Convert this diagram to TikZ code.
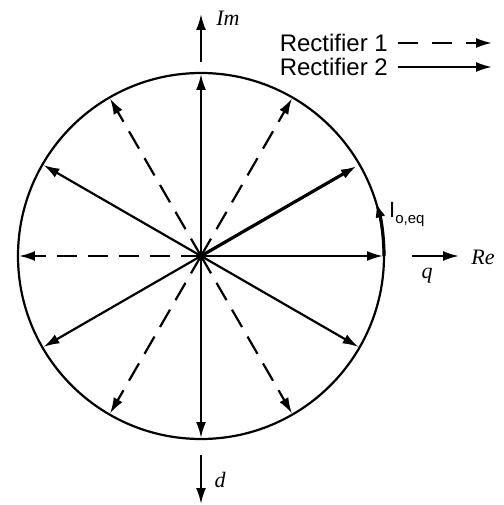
\documentclass[tikz,border=0pt]{standalone}
\usepackage{fontspec}
\setmainfont{Liberation Serif}
\setsansfont{Liberation Sans}
\usetikzlibrary{arrows.meta}
\begin{document}
\begin{tikzpicture}[x=1pt,y=1pt,
  vec/.style={line width=2.2pt,-{Latex[length=16pt,width=10pt]}},
  dvec/.style={vec,dash pattern=on 20pt off 11pt},
  axlabel/.style={font=\fontsize{22}{22}\selectfont\itshape,inner sep=0pt},
  legend/.style={font=\fontsize{24}{24}\selectfont\sffamily,anchor=east,inner sep=0pt}]
\useasboundingbox (-201,-249) rectangle (302,256);
\coordinate (O) at (0,0);
\draw[line width=2.2pt] (O) circle (183);
\foreach \a in {0,90,150,210,270,330}{
  \draw[vec] (O) -- (\a:182);
}
\draw[vec,line width=3.2pt] (O) -- (30:180);
\foreach \a in {60,120,180,240,300}{
  \draw[dvec] (O) -- (\a:182);
}
% current vector along the circle
\draw[line width=3.2pt,-{Latex[length=15pt,width=10pt]}] (0:183) arc (0:17:183);
\node[anchor=base west,inner sep=0pt,font=\sffamily] (ieq) at (188,38) {\fontsize{22}{22}\selectfont I\raisebox{-6pt}{\fontsize{15}{15}\selectfont o,eq}};
% axes
\coordinate (imS) at (0,194);
\coordinate (imE) at (0,242);
\draw[vec] (imS) -- (imE);
\node[axlabel] (im) at (27,238) {Im};
\coordinate (dS) at (0,-199);
\coordinate (dE) at (0,-248);
\draw[vec] (dS) -- (dE);
\node[axlabel] (d) at (19,-224) {d};
\coordinate (reS) at (211,0);
\coordinate (reE) at (258,0);
\draw[vec] (reS) -- (reE);
\node[axlabel] (re) at (282,-1) {Re};
\node[axlabel] (q) at (226,-20) {q};
% legend
\node[legend] (r1) at (187,213) {Rectifier 1};
\node[legend] (r2) at (187,189) {Rectifier 2};
\coordinate (r1E) at (291,213);
\coordinate (r2E) at (291,189);
\draw[vec,dash pattern=on 20pt off 14pt] ([xshift=10pt]r1.east) -- (r1E);
\draw[vec] ([xshift=10pt]r2.east) -- (r2E);
\end{tikzpicture}
\end{document}
